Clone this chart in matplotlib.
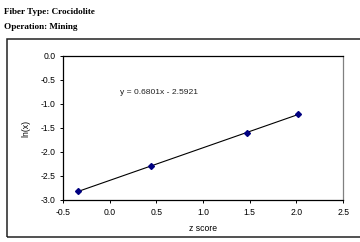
import numpy as np
import matplotlib
matplotlib.use("Agg")
import matplotlib.pyplot as plt
from matplotlib.patches import Rectangle

# data
z_score = [-0.34, 0.44, 1.47, 2.02]
ln_x = [-2.82, -2.30, -1.60, -1.20]
slope = 0.6801
intercept = -2.5921
x_ticks = [-0.5, 0.0, 0.5, 1.0, 1.5, 2.0, 2.5]
y_ticks = [-3.0, -2.5, -2.0, -1.5, -1.0, -0.5, 0.0]

plt.rcParams['font.family'] = ['Liberation Sans', 'DejaVu Sans']

fig = plt.figure(figsize=(3.6, 2.42), dpi=100)

# headings above the chart
fig.text(0.011, 0.942, "Fiber Type: Crocidolite", family='Liberation Serif',
         fontweight='bold', fontsize=6.6, va='baseline')
fig.text(0.011, 0.880, "Operation: Mining", family='Liberation Serif',
         fontweight='bold', fontsize=6.6, va='baseline')

# outer chart frame (runs off the right edge)
fig.patches.append(Rectangle((0.019, 0.021), 1.1, 0.818, transform=fig.transFigure,
                             fill=False, edgecolor='#222222', linewidth=1.1))

ax = fig.add_axes([0.175, 0.1736, 0.778, 0.595])

fit_x = np.array([min(z_score), max(z_score)])
ax.plot(fit_x, slope * fit_x + intercept, color='black', linewidth=0.8)
ax.plot(z_score, ln_x, linestyle='none', marker='D', markersize=3.0,
        color='#000080')

ax.text(0.11, -0.755, "y = %.4fx - %.4f" % (slope, -intercept), fontsize=6.1,
        va='center', ha='left', color='#222222')

ax.set_xlim(-0.5, 2.5)
ax.set_ylim(-3.0, 0.0)
ax.set_xticks(x_ticks)
ax.set_yticks(y_ticks)
ax.set_xticklabels(["%.1f" % t for t in x_ticks])
ax.set_yticklabels(["%.1f" % t for t in y_ticks])
ax.tick_params(direction='out', length=2.5, width=0.7, labelsize=6.2, pad=3,
               colors='black')
ax.set_xlabel("z score", fontsize=6.2, labelpad=5)
ax.set_ylabel("ln(x)", fontsize=6.2, labelpad=7)

for s in ['left', 'bottom', 'top']:
    ax.spines[s].set_linewidth(0.9)
    ax.spines[s].set_color('black')
ax.spines['right'].set_color('#808080')
ax.spines['right'].set_linewidth(0.9)

fig.savefig("out.png", dpi=100)
